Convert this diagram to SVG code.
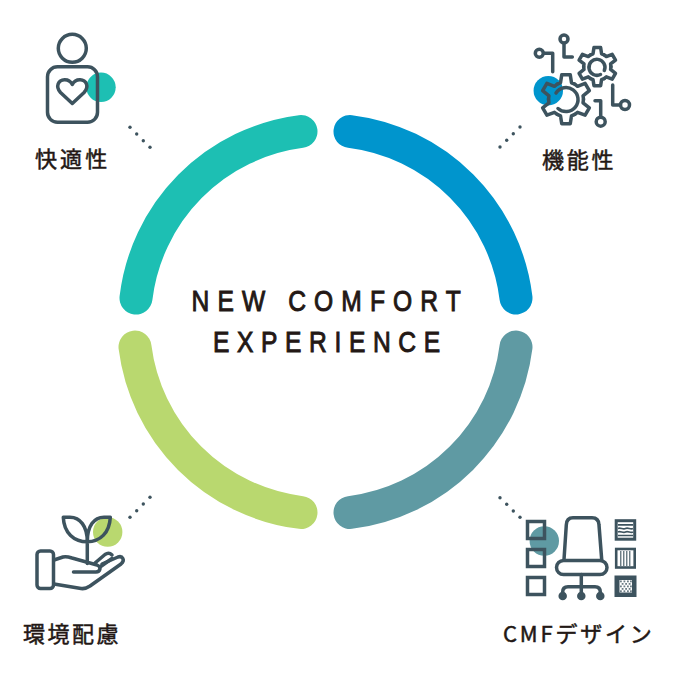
<svg xmlns="http://www.w3.org/2000/svg" xmlns:xlink="http://www.w3.org/1999/xlink" width="677" height="679" viewBox="0 0 677 679">
<style>
.arc{fill:none;stroke-width:33;stroke-linecap:round}
.ic{fill:none;stroke:#3d535e;stroke-width:3.5;stroke-linecap:round;stroke-linejoin:round}
.dot{fill:#3d535e}
.lb{font-family:"Noto Sans CJK JP","Noto Sans",sans-serif;font-size:22px;fill:#231815;stroke:#231815;stroke-width:.5}
.tt{font-family:"Liberation Sans",Arial,sans-serif;font-size:30px;fill:#231815;stroke:#231815;stroke-width:1}
.ns{vector-effect:non-scaling-stroke}
</style>
<defs>
<path id="t" class="ic ns" d="M-35-60.600L-22-66L-17-98L17-98L22-66L35-60.600"/>
<g id="gear">
<use xlink:href="#t" href="#t"/>
<use xlink:href="#t" href="#t" transform="rotate(60)"/>
<use xlink:href="#t" href="#t" transform="rotate(120)"/>
<use xlink:href="#t" href="#t" transform="rotate(180)"/>
<use xlink:href="#t" href="#t" transform="rotate(240)"/>
<use xlink:href="#t" href="#t" transform="rotate(300)"/>
</g>
</defs>
<rect width="677" height="679" fill="#fff"/>
<g id="ring">
<path class="arc" stroke="#1dbfb3" d="M136 298A191 191 0 0 1 301 131.500"/>
<path class="arc" stroke="#0095cd" d="M350 131.500A191 191 0 0 1 516 298"/>
<path class="arc" stroke="#5f9aa3" d="M516 347A191 191 0 0 1 350 512.500"/>
<path class="arc" stroke="#b9d86f" d="M301 512.500A191 191 0 0 1 135 347"/>
</g>
<g id="connectors">
<g class="dot">
<circle cx="130" cy="127.300" r="1.700"/><circle cx="136.700" cy="134" r="1.700"/><circle cx="143.300" cy="140.700" r="1.700"/><circle cx="150" cy="147.300" r="1.700"/>
<circle cx="520" cy="127" r="1.700"/><circle cx="513.300" cy="133.700" r="1.700"/><circle cx="506.700" cy="140.300" r="1.700"/><circle cx="500" cy="147" r="1.700"/>
<circle cx="500" cy="497.700" r="1.700"/><circle cx="506.700" cy="504.300" r="1.700"/><circle cx="513.300" cy="511" r="1.700"/><circle cx="520" cy="517.300" r="1.700"/>
<circle cx="150" cy="497.300" r="1.700"/><circle cx="143.300" cy="504" r="1.700"/><circle cx="136.700" cy="510.700" r="1.700"/><circle cx="130" cy="517.300" r="1.700"/>
</g>
</g>
<g id="title">
<text class="tt" transform="translate(191.500 311) scale(.82 1)" letter-spacing="9.900">NEW COMFORT</text>
<text class="tt" transform="translate(213 352) scale(.82 1)" letter-spacing="9.300">EXPERIENCE</text>
</g>
<g id="node-comfort">
<circle cx="101" cy="87.300" r="14.700" fill="#1dbfb3"/>
<g class="ic">
<circle cx="72.300" cy="48.300" r="14"/>
<rect x="47.500" y="66.800" width="50" height="55.500" rx="10"/>
<path d="M72.300 103.500L60.500 92.500C55 86.500 58.500 80 64.500 79.800C68 79.700 71 82 72.300 84.500C73.600 82 76.600 79.700 80.100 79.800C86.100 80 89.600 86.500 84.100 92.500Z"/>
</g>
<text class="lb" x="35" y="167" letter-spacing="3.100">快適性</text>
</g>
<g id="node-function">
<circle cx="548.300" cy="90.700" r="14.700" fill="#0095cd"/>
<g class="ic">
<use xlink:href="#gear" href="#gear" transform="translate(566 99.300) scale(.25)"/>
<use xlink:href="#gear" href="#gear" transform="translate(597.300 66.700) scale(.195)"/>
<path d="M556 93A12 12 0 1 1 558 108.500"/>
<path d="M600.500 74.500A8 8 0 1 1 604.300 70.500"/>
<circle cx="564" cy="39" r="4"/><path d="M564 43.500V57H572.300"/>
<circle cx="539.300" cy="53.300" r="4"/><path d="M544 53.300H552.700V71.700"/>
<circle cx="625" cy="105" r="4.500"/><path d="M620.500 105H612.700V85"/>
<circle cx="600.700" cy="121.700" r="4.500"/><path d="M600.700 117V100.700H595"/>
</g>
<text class="lb" x="542" y="168" letter-spacing="2.700">機能性</text>
</g>
<g id="node-cmf">
<circle cx="544.300" cy="541" r="14.700" fill="#5f9aa3"/>
<g class="ic">
<rect x="527.500" y="521.500" width="17" height="17" style="stroke-linejoin:miter"/>
<rect x="527.500" y="549.500" width="17" height="17" style="stroke-linejoin:miter"/>
<rect x="527.500" y="577.500" width="17" height="17" style="stroke-linejoin:miter"/>
<path d="M564 559.500L566.300 525C566.500 520 569 517.800 573 517.800H592C596 517.800 598.800 520 599 525L601.700 559.500"/>
<rect x="556.500" y="560.500" width="50.500" height="14" rx="7"/>
<path d="M581.300 574.500V592M562.700 592C562.700 589 564 586.700 568 586.700H595C599 586.700 600.300 589 600.300 592"/>
<circle cx="562.700" cy="596" r="2.500" fill="#3d535e"/><circle cx="581.300" cy="596" r="2.500" fill="#3d535e"/><circle cx="600.300" cy="596" r="2.500" fill="#3d535e"/>
</g>
<g fill="none" stroke="#3d535e">
<rect x="616.200" y="520.700" width="18.500" height="18.500" stroke-width="3"/>
<path d="M618 524.800h15M618 528.500c2.500-1.500 5 1.500 7.500 0s5 1.500 7.500 0M618 532c2.500-1.500 5 1.500 7.500 0s5 1.500 7.500 0M618 535.500h15" stroke-width="1.700"/>
<rect x="616.200" y="549" width="18.500" height="18.500" stroke-width="2.600"/>
<path d="M620.800 551v15M623.800 551v15M626.800 551v15M629.800 551v15" stroke-width="1.100"/>
</g>
<rect x="614.500" y="575.500" width="22" height="21.500" fill="#3d535e"/>
<rect x="619.500" y="580" width="12.500" height="12.500" fill="#fff"/>
<g fill="#3d535e" opacity=".75">
<rect x="620" y="580.500" width="1.800" height="1.800"/><rect x="623.500" y="580.500" width="1.800" height="1.800"/><rect x="627" y="580.500" width="1.800" height="1.800"/><rect x="630" y="580.500" width="1.800" height="1.800"/>
<rect x="621.700" y="583" width="1.800" height="1.800"/><rect x="625.200" y="583" width="1.800" height="1.800"/><rect x="628.700" y="583" width="1.800" height="1.800"/>
<rect x="620" y="585.500" width="1.800" height="1.800"/><rect x="623.500" y="585.500" width="1.800" height="1.800"/><rect x="627" y="585.500" width="1.800" height="1.800"/><rect x="630" y="585.500" width="1.800" height="1.800"/>
<rect x="621.700" y="588" width="1.800" height="1.800"/><rect x="625.200" y="588" width="1.800" height="1.800"/><rect x="628.700" y="588" width="1.800" height="1.800"/>
<rect x="620" y="590.300" width="1.800" height="1.800"/><rect x="623.500" y="590.300" width="1.800" height="1.800"/><rect x="627" y="590.300" width="1.800" height="1.800"/><rect x="630" y="590.300" width="1.800" height="1.800"/>
</g>
<text class="lb" x="503" y="642" letter-spacing="2.800">CMFデザイン</text>
</g>
<g id="node-env">
<circle cx="107.700" cy="532" r="14.700" fill="#b9d86f"/>
<g class="ic">
<rect x="37" y="551" width="16.500" height="37.500" rx="3.500"/>
<path d="M87.300 563.500V541.700M63.300 517.300H70C80 517.300 87.300 526 87.300 541.700C74 541.700 64 533 63.300 517.300ZM110.300 517.300H104C94 517.300 87.300 526 87.300 541.700C100 541.700 109.500 533 110.300 517.300Z"/>
<path d="M54 560L63 557C66 556 69 557 72 558L97 565C102 567 100 572 96 572H73.500"/>
<path d="M54 584L81 588.500C84 589 87 588 90 586L121 564C125.500 560 122.500 555.500 118 557L102 564"/>
<path d="M95 563L105 554.500C108 552.500 110 553 112 555"/>
<path d="M100 567L112 558.500"/>
</g>
<text class="lb" x="23" y="642" letter-spacing="2.500">環境配慮</text>
</g>
</svg>
